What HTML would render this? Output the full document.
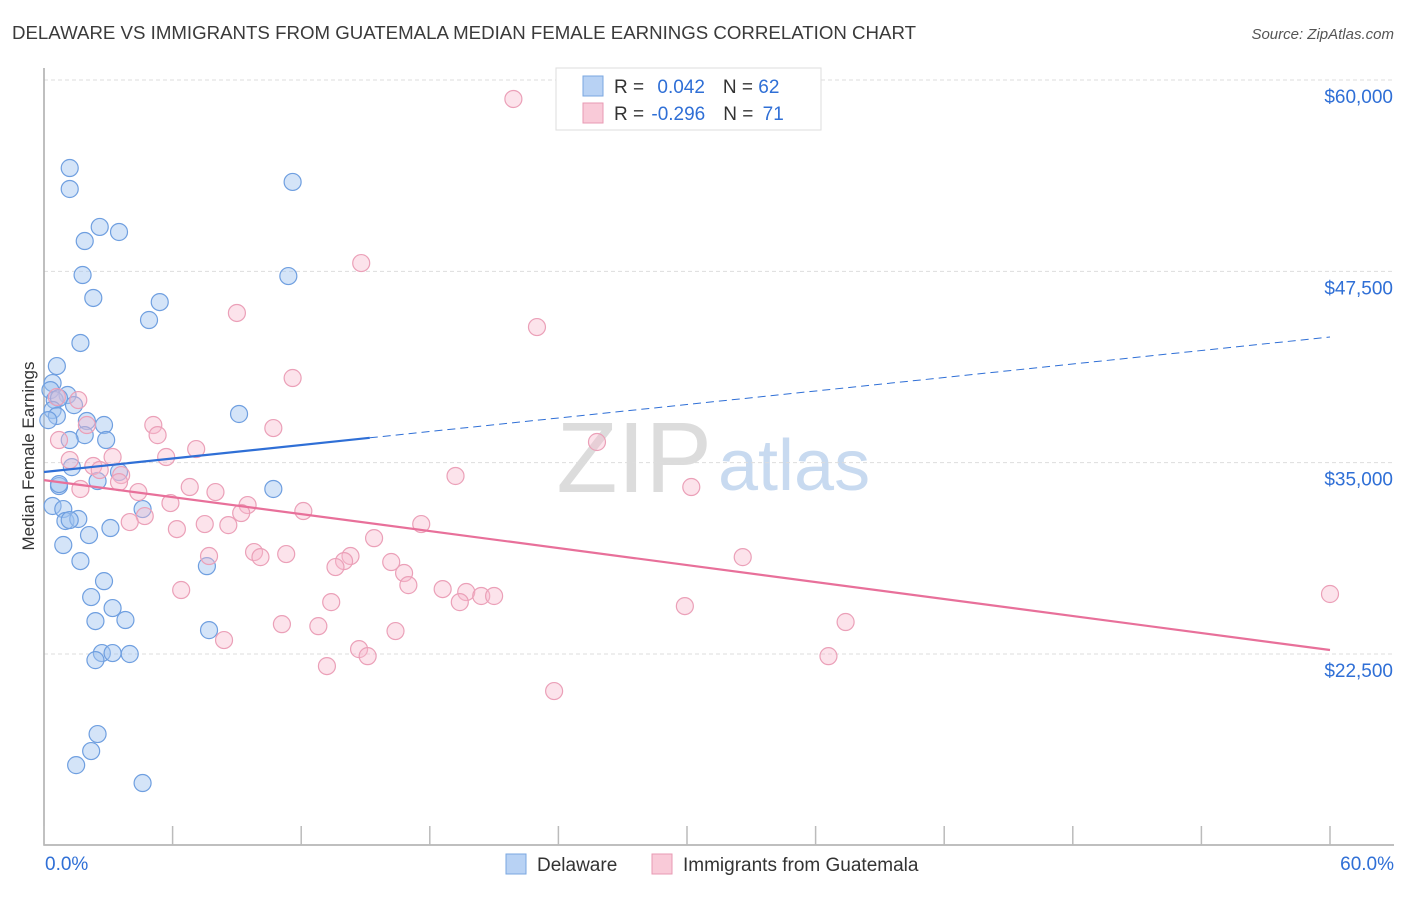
<!DOCTYPE html>
<html><head><meta charset="utf-8"><style>
body{margin:0;background:#fff;font-family:"Liberation Sans",sans-serif}
svg text{font-family:"Liberation Sans",sans-serif}
</style></head><body>
<svg id="chart" width="1406" height="892" viewBox="0 0 1406 892" xmlns="http://www.w3.org/2000/svg">
<text x="12" y="39" font-size="18" fill="#3a3a3a" textLength="904" lengthAdjust="spacingAndGlyphs">DELAWARE VS IMMIGRANTS FROM GUATEMALA MEDIAN FEMALE EARNINGS CORRELATION CHART</text>
<text x="1394" y="39" font-size="15" fill="#555" font-style="italic" text-anchor="end">Source: ZipAtlas.com</text>
<g>
<text x="712" y="492" font-size="100" fill="#dcdcdc" text-anchor="end" font-family="Liberation Serif,serif">ZIP</text>
<text x="718" y="490" font-size="72" fill="#c8daf0">atlas</text>
</g>
<g id="grid"></g>
<g id="axes"></g>
<g id="marks"></g>
<g id="lines"></g>
<text transform="translate(34,456) rotate(-90)" font-size="17" fill="#333" text-anchor="middle">Median Female Earnings</text>
<g>
<rect x="556" y="68" width="265" height="62" fill="#fff" stroke="#ddd"/>
<rect x="583" y="76" width="20" height="20" fill="#b8d2f4" stroke="#7aa7e0"/>
<rect x="583" y="103" width="20" height="20" fill="#f9cad8" stroke="#e89ab3"/>
<text x="614" y="93" font-size="19" fill="#333">R = <tspan fill="#2f6fd6" dx="8">0.042</tspan><tspan dx="18" fill="#333">N = </tspan><tspan fill="#2f6fd6">62</tspan></text>
<text x="614" y="120" font-size="19" fill="#333">R = <tspan fill="#2f6fd6" dx="2">-0.296</tspan><tspan dx="18" fill="#333">N = </tspan><tspan fill="#2f6fd6" dx="4">71</tspan></text>
</g>
<g>
<rect x="506" y="854" width="20" height="20" fill="#b8d2f4" stroke="#7aa7e0"/>
<text x="537" y="871" font-size="19" fill="#333">Delaware</text>
<rect x="652" y="854" width="20" height="20" fill="#f9cad8" stroke="#e89ab3"/>
<text x="683" y="871" font-size="19" fill="#333">Immigrants from Guatemala</text>
</g>
</svg>
<script>
const NS="http://www.w3.org/2000/svg";
const yTicks=[22500,35000,47500,60000];
const yTickLabels=["$22,500","$35,000","$47,500","$60,000"];
const xTickVals=[0,6,12,18,24,30,36,42,48,54,60];
const xLabels=["0.0%","60.0%"];
const delawareX=[1.2,1.2,11.6,2.6,3.5,1.9,1.8,11.4,2.3,5.4,4.9,1.7,0.6,0.4,0.3,1.1,1.4,0.5,0.7,0.4,0.6,0.2,9.1,2.0,2.8,1.9,2.9,1.2,1.3,3.5,2.5,0.7,0.7,10.7,0.4,0.9,4.6,1.0,1.6,1.2,3.1,2.1,0.9,1.7,7.6,2.8,2.2,3.2,2.4,3.8,7.7,2.7,3.2,4.0,2.4,2.5,2.2,1.5,4.6];
const delawareY=[54250,52880,53340,50400,50070,49480,47260,47190,45760,45490,44320,42820,41310,40200,39740,39420,38760,39090,39220,38440,38050,37780,38180,37720,37460,36800,36480,36480,34710,34390,33800,33470,33600,33280,32170,31970,31970,31190,31320,31250,30730,30270,29620,28570,28240,27260,26220,25500,24650,24720,24060,22560,22560,22500,22100,17270,16160,15240,14070];
const guatX=[21.9,14.8,9.0,23.0,11.6,1.6,0.6,5.1,2.0,10.7,5.3,0.7,25.8,7.1,5.7,1.2,3.2,2.3,2.6,3.6,3.5,19.2,1.7,6.8,4.4,8.0,30.2,9.5,5.9,4.7,12.1,9.2,4.0,6.2,7.5,8.6,17.6,15.4,7.7,9.8,11.3,10.1,14.3,14.0,13.6,16.2,32.6,16.8,17.0,6.4,18.6,19.7,20.4,21.0,19.4,13.4,29.9,11.1,12.8,16.4,37.4,8.4,14.7,15.1,36.6,13.2,23.8,60.0];
const guatY=[58760,48040,44780,43860,40530,39090,39290,37460,37460,37260,36800,36480,36350,35890,35370,35170,35370,34780,34520,34190,33730,34130,33280,33410,33080,33080,33410,32230,32360,31510,31840,31710,31120,30660,30990,30920,30990,30070,28900,29160,29030,28830,28900,28570,28180,28510,28830,27790,27000,26680,26740,26550,26290,26290,25890,25890,25630,24450,24320,24000,24590,23410,22820,22360,22360,21710,20080,26420];
const delawareTrend=[34390,43210];
const guatTrend=[33860,22760];
const delawareSolidEnd=15.2;

const X0=44,X1=1330,YB=845;
function sx(p){return X0+(p/60)*(X1-X0);}
function sy(v){return 80+(60000-v)*(654-80)/(60000-22500);}
function el(t,a,parent){const e=document.createElementNS(NS,t);for(const k in a)e.setAttribute(k,a[k]);parent.appendChild(e);return e;}
const grid=document.getElementById('grid'),axes=document.getElementById('axes'),marks=document.getElementById('marks'),lines=document.getElementById('lines');
yTicks.forEach((v,i)=>{
  const g=el('line',{x1:X0,x2:1394,y1:sy(v),y2:sy(v),stroke:'#ddd','stroke-dasharray':'4,3'},grid);
  
  
  const t=el('text',{x:1393,y:sy(v)+23,'font-size':19,fill:'#2f6fd6','text-anchor':'end'},axes);
  t.textContent=yTickLabels[i];
  
  
});
const ax=el('path',{d:`M${X0} 68 V${YB} H1394`,stroke:'#aaa',fill:'none','stroke-width':1.5},axes);


xTickVals.forEach(p=>{
  const t=el('line',{x1:sx(p),x2:sx(p),y1:YB,y2:YB-19,stroke:'#bbb','stroke-width':1.5},axes);
  
  
});
const xl0=el('text',{x:45,y:870,'font-size':19,fill:'#2f6fd6'},axes);xl0.textContent=xLabels[0];


const xl1=el('text',{x:1394,y:870,'font-size':19,fill:'#2f6fd6','text-anchor':'end'},axes);xl1.textContent=xLabels[1];


delawareX.forEach((x,i)=>{
  const c=el('circle',{cx:sx(x),cy:sy(delawareY[i]),r:8.5,fill:'rgba(160,196,240,0.45)',stroke:'#6f9fe0','stroke-width':1.2},marks);
  
  
});
guatX.forEach((x,i)=>{
  const c=el('circle',{cx:sx(x),cy:sy(guatY[i]),r:8.5,fill:'rgba(248,185,205,0.4)',stroke:'#eba0b8','stroke-width':1.2},marks);
  
  
});
function tv(tr,p){return tr[0]+(tr[1]-tr[0])*p/60;}
const b1=el('line',{x1:sx(0),y1:sy(tv(delawareTrend,0)),x2:sx(delawareSolidEnd),y2:sy(tv(delawareTrend,delawareSolidEnd)),stroke:'#2f6fd6','stroke-width':2.2},lines);


const b2=el('line',{x1:sx(delawareSolidEnd),y1:sy(tv(delawareTrend,delawareSolidEnd)),x2:sx(60),y2:sy(tv(delawareTrend,60)),stroke:'#2f6fd6','stroke-width':1,'stroke-dasharray':'8,5'},lines);


const p1=el('line',{x1:sx(0),y1:sy(guatTrend[0]),x2:sx(60),y2:sy(guatTrend[1]),stroke:'#e8709a','stroke-width':2.2},lines);


</script>
</body></html>
